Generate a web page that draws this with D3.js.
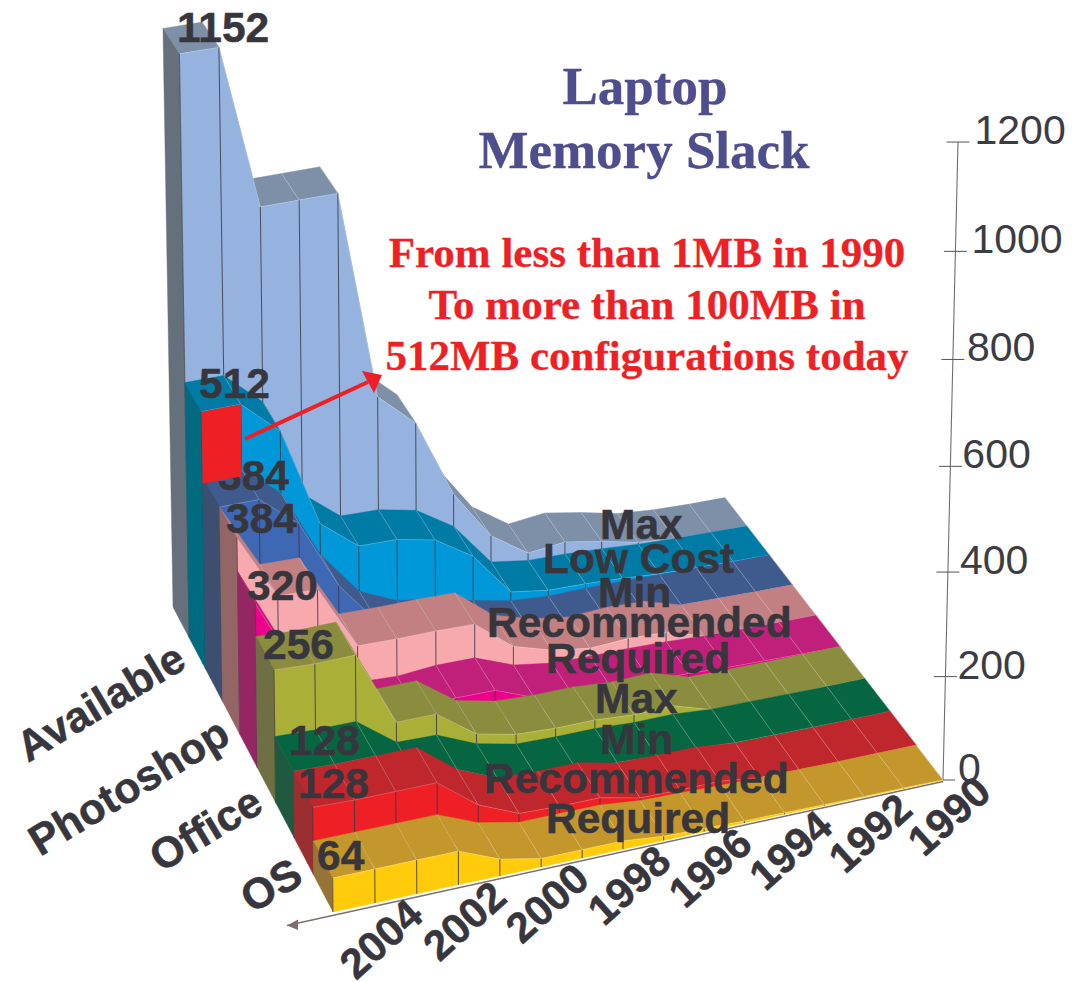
<!DOCTYPE html>
<html><head><meta charset="utf-8">
<script src="https://cdnjs.cloudflare.com/ajax/libs/d3/7.8.5/d3.min.js"></script>
<style>html,body{margin:0;padding:0;background:#fff}svg{display:block}</style>
</head><body><svg id="c" width="1083" height="982"></svg>
<script>
// ---- data (front row to back row), 2005 -> 1990 ----
const years = [2005,2004,2003,2002,2001,2000,1999,1998,1997,1996,1995,1994,1993,1992,1991,1990];
const yearLabels = [2004,2002,2000,1998,1996,1994,1992,1990];
const zTicks = [0,200,400,600,800,1000,1200];
const categories = ["Available","Photoshop","Office","OS"];
const osRequired          = [64,64,64,64,32,16,16,16,8,6,4,3,2,1,1,0];
const osRecommended       = [128,125,125,125,66,33,30,30,13,12,12,3,2,1,1,1];
const officeMin           = [128,125,125,68,66,33,16,14,14,10,10,4,3,2,1,1];
const officeMax           = [256,252,253,107,107,52,35,31,31,25,27,3,2,1,1,1];
const photoshopRequired   = [320,178,176,55,51,57,56,26,14,12,12,10,6,4,2,1];
const photoshopRecommended= [384,256,254,127,125,125,123,63,40,28,32,29,6,4,2,1];
const availableMin        = [384,384,322,184,95,60,50,30,14,8,9,8,6,4,2,1];
const availableLowCost    = [512,512,445,246,186,184,168,120,32,20,18,14,8,5,3,1];
const availableMax        = [1152,1152,830,830,830,412,345,186,86,35,43,29,12,5,2,1];
const rowValues = [osRequired,osRecommended,officeMin,officeMax,photoshopRequired,photoshopRecommended,availableMin,availableLowCost,availableMax];
const rowLabels = ["Required","Recommended","Min","Max","Required","Recommended","Min","Low Cost","Max"];
const rowPeaks  = ["64","128","128","256","320","384","384","512","1152"];

// ---- styles ----
const faceCol = ["#ffcb0b","#ee1f25","#00794a","#a9af37","#ec008c","#f8a9ad","#3f68b4","#0098d8","#95b3de"];
const topCol  = ["#c4972c","#bf272d","#066642","#8a8c3e","#c01f7a","#c28083","#3f5b8e","#007ba5","#7e8fa8"];
const wallCol = ["#967436","#9a2e30","#1f5a40","#6f6f44","#942763","#946565","#3c4f70","#006a7f","#666f7c"];
const ink = "#37363d";
const tickLabelDx = [15,12,12,12,14,16,16.5];

// ---- perspective: base plane homography + vertical vanishing point ----
const FL=[333,912],FR=[943,780],BR=[725,498],BL=[173,607];
const VP=[502,19550];
const den=(FR[0]-BR[0])*(BL[1]-BR[1])-(BL[0]-BR[0])*(FR[1]-BR[1]);
const sx=FL[0]-FR[0]+BR[0]-BL[0], sy=FL[1]-FR[1]+BR[1]-BL[1];
const G=(sx*(BL[1]-BR[1])-(BL[0]-BR[0])*sy)/den;
const H=((FR[0]-BR[0])*sy-sx*(FR[1]-BR[1]))/den;
const A=FR[0]-FL[0]+G*FR[0], B=BL[0]-FL[0]+H*BL[0], C=FL[0];
const D=FR[1]-FL[1]+G*FR[1], E=BL[1]-FL[1]+H*BL[1], F=FL[1];
const zScale=d3.scaleLinear().domain([0,1200]).range([0,638*(G+1)/(141-VP[1])]);
const uScale=d3.scaleLinear().domain([2005,1990]).range([0,1]);
const vScale=d3.scaleLinear().domain([0,9]).range([0,1]);
function project(year,row,z){
  const u=uScale(year),v=vScale(row),k=zScale(z)*(1+0.015*v);
  const W=G*u+H*v+1+k;
  return [(A*u+B*v+C+k*VP[0])/W,(D*u+E*v+F+k*VP[1])/W];
}
const svg=d3.select("#c");
const line=d3.line();
const poly=(g,pts,fill,stroke)=>g.append("path").attr("d",line(pts)+"Z").attr("fill",fill)
   .attr("stroke",stroke||fill).attr("stroke-width",0.4);
const seg=(g,a,b,col,w,op)=>g.append("line").attr("x1",a[0]).attr("y1",a[1]).attr("x2",b[0]).attr("y2",b[1])
   .attr("stroke",col).attr("stroke-width",w).attr("stroke-opacity",op==null?1:op);

// ---- front-edge arrow (series axis) ----
const axisG=svg.append("g");
{
  const a=project(1990,0,0), b=project(2005,0,0);
  const dx=b[0]-a[0],dy=b[1]-a[1];
  const tip=[b[0]-46,b[1]+dy/dx*-46+3.5];
  const s=[a[0],a[1]+1.5];
  seg(axisG,s,tip,"#7d6f6b",1.5);
  axisG.append("path").attr("d",line([tip,[tip[0]+11,tip[1]-6],[tip[0]+11,tip[1]+4.5]])+"Z").attr("fill","#7d6f6b");
}
// ---- value axis ----
{
  const p0=project(1990,0,0),p1=project(1990,0,1200);
  seg(axisG,p0,p1,"#6f6f6f",1.1);
  zTicks.forEach((t,i)=>{
    const p=project(1990,0,t);
    seg(axisG,[t===0?p[0]:p[0]-11.5,p[1]],[p[0]+(t===0?12:11.5),p[1]],"#555",1);
    axisG.append("text").attr("x",p[0]+tickLabelDx[i]).attr("y",p[1]+2).text(t)
      .attr("font-family","Liberation Sans").attr("font-size",41).attr("fill","#3c3c44");
  });
}

// ---- rows, back to front ----
for(let r=8;r>=0;r--){
  const g=svg.append("g");
  const vals=rowValues[r];
  const front=years.map((y,i)=>project(y,r,vals[i]));
  const back =years.map((y,i)=>project(y,r+1,vals[i]));
  const base =years.map(y=>project(y,r,0));
  for(let i=years.length-2;i>=0;i--){
    poly(g,[front[i],front[i+1],back[i+1],back[i]],topCol[r]);
  }
  years.forEach((y,i)=>{ if(i>0) seg(g,front[i],back[i],"#fff",0.6,0.4); });
  poly(g,front.concat(base.slice().reverse()),faceCol[r]);
  years.forEach((y,i)=>{ if(i>0&&i<15) seg(g,front[i],base[i],"#3a3a46",1,0.85); });
  g.append("path").attr("d",line(front)).attr("fill","none").attr("stroke","#fff").attr("stroke-opacity",0.3).attr("stroke-width",0.7);
  poly(g,[front[0],back[0],project(2005,r+1,0),base[0]],wallCol[r]);
  seg(g,front[0],base[0],"#333",0.7,0.7);
}

// ---- text ----
const label=(t,x,y,o={})=>{
  const e=svg.append("text").text(t).attr("font-family",o.f||"Liberation Sans").attr("font-weight",o.w||"bold")
    .attr("font-size",o.s||42.5).attr("fill",o.c||ink).attr("text-anchor",o.a||"start")
    .attr("stroke",o.c||ink).attr("stroke-width",o.sw==null?0.5:o.sw);
  if(o.r) e.attr("transform",`translate(${x},${y}) rotate(${o.r})`); else e.attr("x",x).attr("y",y);
};
const titleCol="#4e4d8d", redCol="#ee1f25";
label("Laptop",645,104,{f:"Liberation Serif",s:53,c:titleCol,a:"middle",sw:0.3});
label("Memory Slack",644,168,{f:"Liberation Serif",s:53,c:titleCol,a:"middle",sw:0.3});
label("From less than 1MB in 1990",647,267,{f:"Liberation Serif",s:43,c:redCol,a:"middle",sw:0.3});
label("To more than 100MB in",647,319,{f:"Liberation Serif",s:43,c:redCol,a:"middle",sw:0.3});
label("512MB configurations today",647,370,{f:"Liberation Serif",s:43,c:redCol,a:"middle",sw:0.3});

const peakAt=[[317,870],[298,798],[289,755],[263,659],[247,600],[226,533],[218,490],[199,398],[177,42]];
rowPeaks.forEach((t,i)=>label(t,peakAt[i][0],peakAt[i][1]));
const nameAt=[[546,833],[484,793],[600,754],[595,713],[546,673],[487,637],[598,607],[543,573],[600,539]];
rowLabels.forEach((t,i)=>label(t,nameAt[i][0],nameAt[i][1]));

const catAt=[[28,763],[40,857],[161,873],[252,914]];
categories.forEach((t,i)=>label(t,catAt[i][0],catAt[i][1],{r:-31,s:43}));
yearLabels.forEach(y=>{
  const p=project(y,0,0);
  label(y,p[0]-19,p[1]+78,{r:-42,s:42});
});

// ---- slack highlight and arrow (drawn over the labels) ----
{
  const rowLow=7, z0=512, z1=370;
  const a=project(2005,rowLow,z0),b=project(2004,rowLow,z0),c=project(2004,rowLow,z1),d=project(2005,rowLow,z1);
  svg.append("path").attr("d",line([a,b,c,d])+"Z").attr("fill","#ee1f25");
  const st=[245,439],tip=[382,375];
  seg(svg,st,[368,382],"#ee1f25",4);
  svg.append("path").attr("d",line([tip,[362,371],[374,393]])+"Z").attr("fill","#ee1f25");
}
</script></body></html>
